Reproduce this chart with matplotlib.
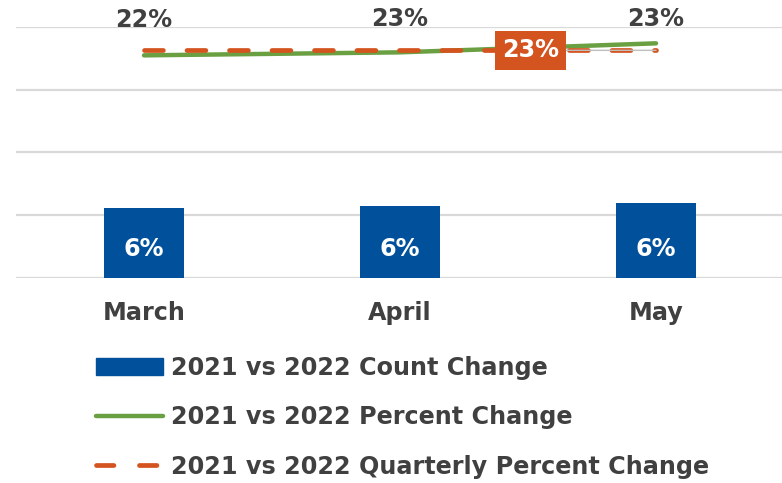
import matplotlib
matplotlib.use("Agg")
import matplotlib.pyplot as plt
import matplotlib.transforms as mtrans
from matplotlib.lines import Line2D
from matplotlib.patches import Patch

plt.rcParams['font.family'] = ['DejaVu Sans']

months = ["March", "April", "May"]
count_change = [5.6, 5.72, 5.96]          # bar heights (primary axis, %)
count_labels = ["6%", "6%", "6%"]
pct_change = [22.2, 22.5, 23.4]           # green line (secondary axis, %)
pct_labels = ["22%", "23%", "23%"]
quarterly_change = [22.7, 22.7, 22.7]     # orange dashed line
quarterly_label = "23%"
series_names = ["2021 vs 2022 Count Change",
                "2021 vs 2022 Percent Change",
                "2021 vs 2022 Quarterly Percent Change"]

BLUE = "#00509B"
GREEN = "#6A9F42"
ORANGE = "#D45420"
TEXT = "#404040"
GRID = "#D9D9D9"
FS = 17.2

fig = plt.figure(figsize=(7.82, 4.83), dpi=100)
ax = fig.add_axes([16/782, (483-277.7)/483, 768/782, 250.4/483])
x = list(range(len(months)))

ax.bar(x, count_change, width=80/256, color=BLUE, zorder=2)
ax.set_xlim(-0.5, 2.5)
ax.set_ylim(0, 20)
ax.set_yticks([0, 5, 10, 15, 20])
ax.yaxis.grid(True, color=GRID, lw=1.6, zorder=0)
ax.set_axisbelow(True)
ax.set_xticks(x, months)
for s in ax.spines.values():
    s.set_visible(False)

for xi, lab in zip(x, count_labels):
    ax.annotate(lab, (xi, 0), xytext=(0, 20.5), textcoords='offset points',
                ha='center', va='center', color='white', fontsize=FS,
                fontweight='bold')

ax2 = ax.twinx()
ax2.set_ylim(0, 25)
ax2.axis('off')
ax2.plot(x, pct_change, color=GREEN, lw=3.2, solid_capstyle='round', zorder=3)
ax2.plot(x, quarterly_change, color=ORANGE, lw=3.4, dashes=(4.0, 5.0),
         dash_capstyle='round', zorder=4)

ax.tick_params(axis='y', left=False, right=False, labelleft=False,
               labelright=False)
ax.tick_params(axis='x', length=0, pad=16.5, labelsize=FS, labelcolor=TEXT)
for t in ax.get_xticklabels():
    t.set_fontweight('bold')

trans = mtrans.blended_transform_factory(ax2.transData, ax2.transAxes)
for xi, lab, dy in zip(x, pct_labels, [1.03, 1.034, 1.034]):
    ax2.text(xi, dy, lab, transform=trans, ha='center', va='center',
             color=TEXT, fontsize=FS, fontweight='bold')

ax2.annotate(quarterly_label, (2, quarterly_change[2]),
             xytext=(1.51, quarterly_change[2]), textcoords='data',
             ha='center', va='center', color='white', fontsize=FS,
             fontweight='bold', zorder=6,
             bbox=dict(boxstyle='square,pad=0.3', fc=ORANGE, ec='none'),
             arrowprops=dict(arrowstyle='-', color='#BFBFBF', lw=1,
                             shrinkA=0, shrinkB=0))

handles = [Patch(color=BLUE),
           Line2D([0], [0], color=GREEN, lw=3.2, solid_capstyle='round'),
           Line2D([0], [0], color=ORANGE, lw=3.4, dashes=(3.7, 5.4),
                  dash_capstyle='round')]
leg = fig.legend(handles, series_names, loc='upper left',
                 bbox_to_anchor=(96/782, 1 - 356/483), frameon=False,
                 fontsize=FS, handlelength=2.8, handletextpad=0.33,
                 labelspacing=1.06, borderpad=0, borderaxespad=0,
                 labelcolor=TEXT)
for t in leg.get_texts():
    t.set_fontweight('bold')

fig.savefig("out.png", dpi=100)
